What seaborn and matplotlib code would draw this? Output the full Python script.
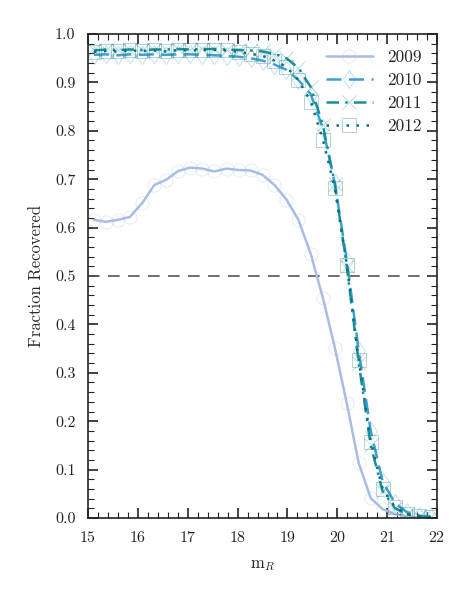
import numpy as np
import matplotlib
matplotlib.use("Agg")
import matplotlib.pyplot as plt
import pandas as pd
import seaborn as sns
from matplotlib.ticker import MultipleLocator

# bin centres in m_R (29 bins between 15 and 22)
mag = [15.12, 15.36, 15.60, 15.84, 16.09, 16.33, 16.57, 16.81, 17.05, 17.29,
       17.53, 17.78, 18.02, 18.26, 18.50, 18.74, 18.98, 19.22, 19.47, 19.71,
       19.95, 20.19, 20.43, 20.67, 20.91, 21.16, 21.40, 21.64, 21.88]

frac_2009 = [0.616, 0.612, 0.616, 0.622, 0.651, 0.688, 0.699, 0.717, 0.724, 0.722,
             0.716, 0.722, 0.719, 0.718, 0.709, 0.688, 0.658, 0.616, 0.545, 0.455,
             0.352, 0.237, 0.113, 0.041, 0.018, 0.008, 0.003, 0.001, 0.000]
frac_2010 = [0.957, 0.958, 0.956, 0.958, 0.957, 0.958, 0.957, 0.958, 0.958, 0.957,
             0.956, 0.955, 0.953, 0.950, 0.945, 0.937, 0.926, 0.905, 0.875, 0.805,
             0.692, 0.532, 0.345, 0.180, 0.075, 0.030, 0.012, 0.005, 0.002]
frac_2011 = [0.966, 0.968, 0.967, 0.968, 0.967, 0.968, 0.968, 0.969, 0.968, 0.969,
             0.969, 0.968, 0.967, 0.966, 0.964, 0.959, 0.950, 0.930, 0.890, 0.812,
             0.690, 0.520, 0.320, 0.150, 0.055, 0.020, 0.008, 0.003, 0.001]
frac_2012 = [0.963, 0.965, 0.964, 0.966, 0.965, 0.966, 0.964, 0.967, 0.966, 0.967,
             0.967, 0.966, 0.963, 0.959, 0.955, 0.945, 0.932, 0.905, 0.860, 0.782,
             0.681, 0.523, 0.326, 0.158, 0.060, 0.022, 0.008, 0.004, 0.002]

years = ["2009", "2010", "2011", "2012"]
series = [frac_2009, frac_2010, frac_2011, frac_2012]
colors = ["#a8bce6", "#3f9fd3", "#17909a", "#0a7272"]
styles = ["-", (0, (6, 3)), (0, (5, 2.5, 1, 2.5)), (0, (1, 3))]
markers = ["o", "d", "x", "s"]

sns.set_theme(style="ticks")
plt.rcParams["font.family"] = ["serif"]
plt.rcParams["font.serif"] = ["cmr10", "DejaVu Serif"]
plt.rcParams["mathtext.fontset"] = "cm"
plt.rcParams["axes.formatter.use_mathtext"] = True
plt.rcParams["axes.unicode_minus"] = False

fig = plt.figure(figsize=(4.73, 6.0), dpi=100)
ax = fig.add_axes([0.186, 0.1367, 0.738, 0.8066])

ax.axhline(0.5, color="#555555", lw=1.2, ls=(0, (7, 5)), zorder=1)

for year, vals, c, ls, m in zip(years, series, colors, styles, markers):
    df = pd.DataFrame({"mag": mag, "frac": vals})
    rgb = matplotlib.colors.to_rgb(c)
    sns.lineplot(data=df, x="mag", y="frac", ax=ax, color=c, lw=1.8, linestyle=ls,
                 marker=m, markersize=9.5, markerfacecolor="none",
                 markeredgecolor=rgb + (0.35,), markeredgewidth=0.6, label=year)

ax.set_xlim(15, 22)
ax.set_ylim(0, 1.0)
ax.xaxis.set_major_locator(MultipleLocator(1))
ax.xaxis.set_minor_locator(MultipleLocator(0.2))
ax.yaxis.set_major_locator(MultipleLocator(0.1))
ax.yaxis.set_minor_locator(MultipleLocator(0.02))
ax.yaxis.set_major_formatter(matplotlib.ticker.FormatStrFormatter("%.1f"))
ax.tick_params(which="both", direction="in", top=True, right=True, colors="#222222",
               labelsize=11.5, labelcolor="#222222")
ax.tick_params(which="major", length=7, width=1.2, pad=9)
ax.tick_params(which="minor", length=4, width=0.8)
for s in ax.spines.values():
    s.set_linewidth(1.2)
    s.set_color("#222222")

ax.set_xlabel(r"m$_R$", fontsize=12, labelpad=9)
ax.set_ylabel("Fraction Recovered", fontsize=12, labelpad=8)

leg = ax.legend(loc="upper right", frameon=False, fontsize=12.5, handlelength=2.7,
                borderaxespad=0.5, labelspacing=0.45, handletextpad=0.8)

plt.savefig("out.png", dpi=100)
